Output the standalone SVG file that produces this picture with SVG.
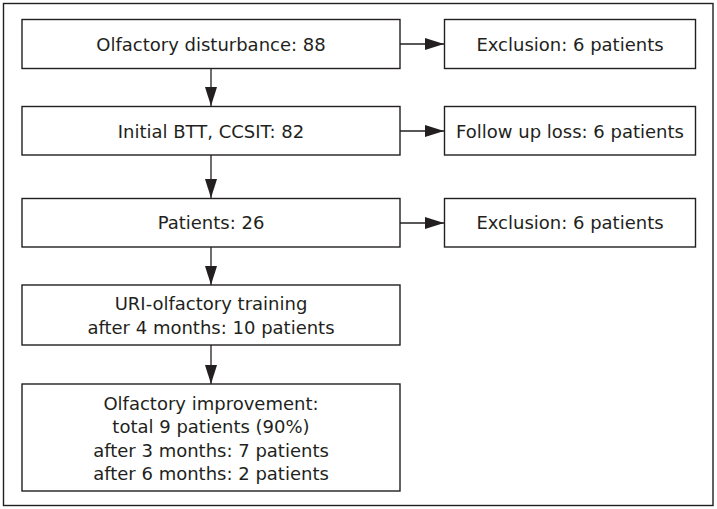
<svg xmlns="http://www.w3.org/2000/svg" width="717" height="509" viewBox="0 0 717 509">
<style>
.box{fill:#fff;stroke:#231f20;stroke-width:1.4}
.t{font-family:"DejaVu Sans","Liberation Sans",sans-serif;font-size:18px;fill:#231f20;text-anchor:middle}
.c{stroke:#231f20;stroke-width:1.3;fill:none}
</style>
<defs>
<marker id="ah" markerUnits="userSpaceOnUse" markerWidth="20" markerHeight="14" viewBox="0 0 20 14" refX="19" refY="7" orient="auto">
<path d="M0,1 L19,7 L0,13 Z" fill="#231f20"/>
</marker>
</defs>
<rect x="3.5" y="3.5" width="709.5" height="502" fill="#fff" stroke="#231f20" stroke-width="1.4"/>
<g id="connectors">
<line class="c" x1="211" y1="68.5" x2="211" y2="106" marker-end="url(#ah)"/>
<line class="c" x1="211" y1="155" x2="211" y2="198" marker-end="url(#ah)"/>
<line class="c" x1="211" y1="247" x2="211" y2="285" marker-end="url(#ah)"/>
<line class="c" x1="211" y1="345" x2="211" y2="384" marker-end="url(#ah)"/>
<line class="c" x1="400" y1="44" x2="444" y2="44" marker-end="url(#ah)"/>
<line class="c" x1="400" y1="131" x2="444" y2="131" marker-end="url(#ah)"/>
<line class="c" x1="400" y1="223" x2="444" y2="223" marker-end="url(#ah)"/>
</g>
<g id="n1"><rect class="box" x="22" y="19.5" width="378" height="49"/><text class="t" x="211" y="51">Olfactory disturbance: 88</text></g>
<g id="n2"><rect class="box" x="22" y="106.5" width="378" height="48.5"/><text class="t" x="211" y="137.5">Initial BTT, CCSIT: 82</text></g>
<g id="n3"><rect class="box" x="22" y="198.5" width="378" height="48.5"/><text class="t" x="211" y="229">Patients: 26</text></g>
<g id="n4"><rect class="box" x="22" y="285" width="378" height="60"/><text class="t" x="211" y="310">URI-olfactory training</text><text class="t" x="211" y="333.5">after 4 months: 10 patients</text></g>
<g id="n5"><rect class="box" x="22" y="384" width="378" height="107"/><text class="t" x="211" y="409.5">Olfactory improvement:</text><text class="t" x="211" y="433">total 9 patients (90%)</text><text class="t" x="211" y="456.5">after 3 months: 7 patients</text><text class="t" x="211" y="480">after 6 months: 2 patients</text></g>
<g id="r1"><rect class="box" x="444.5" y="19.5" width="251" height="49"/><text class="t" x="570" y="51">Exclusion: 6 patients</text></g>
<g id="r2"><rect class="box" x="444.5" y="106.5" width="251" height="48.5"/><text class="t" x="570" y="137.5">Follow up loss: 6 patients</text></g>
<g id="r3"><rect class="box" x="444.5" y="198.5" width="251" height="48.5"/><text class="t" x="570" y="229">Exclusion: 6 patients</text></g>
</svg>
